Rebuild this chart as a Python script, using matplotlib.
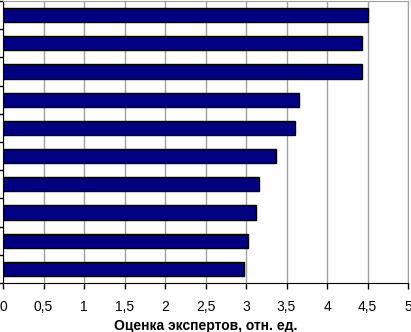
import matplotlib.pyplot as plt
import numpy as np

plt.rcParams['font.family'] = ['Liberation Sans', 'DejaVu Sans']

# expert scores, listed top to bottom
scores = [4.5, 4.43, 4.43, 3.65, 3.61, 3.37, 3.16, 3.12, 3.02, 2.97]
xticks = [0, 0.5, 1, 1.5, 2, 2.5, 3, 3.5, 4, 4.5, 5]
xticklabels = ['0', '0,5', '1', '1,5', '2', '2,5', '3', '3,5', '4', '4,5', '5']

fig = plt.figure(figsize=(4.11, 3.32), dpi=100)
ax = fig.add_axes([3 / 411, 1 - 283 / 332, 405 / 411, 282 / 332])

y = np.arange(len(scores))
ax.barh(y, scores, height=0.5, color='#000080', edgecolor='black', linewidth=1, zorder=3)

ax.set_xlim(0, 5)
ax.set_ylim(len(scores) - 0.5, -0.5)
ax.set_xticks(xticks)
ax.set_xticklabels(xticklabels, fontsize=10)
ax.set_yticks(np.arange(len(scores) + 1) - 0.5)
ax.set_yticklabels([])
ax.tick_params(axis='y', length=3, width=1, color='black')
ax.tick_params(axis='x', length=4, width=1, color='black', pad=8)
ax.xaxis.grid(True, color='#a0a0a0', linewidth=1, zorder=0)
ax.set_axisbelow(True)

for side in ['top', 'right']:
    ax.spines[side].set_color('#a0a0a0')
for side in ['left', 'bottom']:
    ax.spines[side].set_color('black')

ax.set_xlabel('Оценка экспертов, отн. ед.', fontsize=10, fontweight='bold', labelpad=4)

fig.savefig('out.png', dpi=100)
